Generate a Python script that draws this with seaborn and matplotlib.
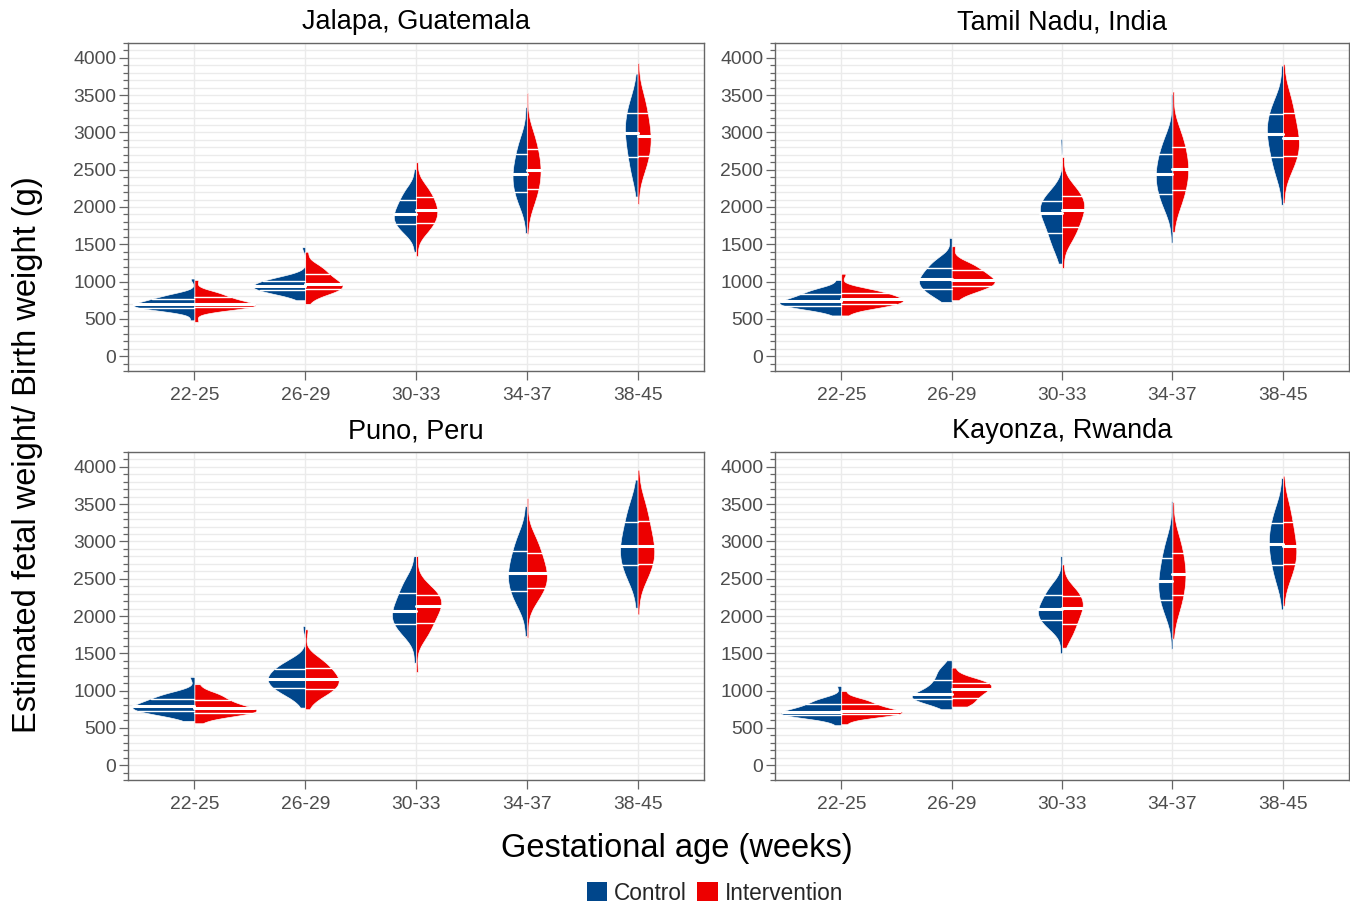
import numpy as np
import pandas as pd
import matplotlib
matplotlib.use("Agg")
import matplotlib.pyplot as plt
import seaborn as sns
from matplotlib.patches import Patch
from matplotlib.ticker import MultipleLocator

sns.set_theme(style="white")
plt.rcParams['font.family'] = ['Liberation Sans', 'DejaVu Sans']

ages = ["22-25", "26-29", "30-33", "34-37", "38-45"]
groups = ["Control", "Intervention"]
sites = ["Jalapa, Guatemala", "Tamil Nadu, India", "Puno, Peru", "Kayonza, Rwanda"]
colors = ["#00468B", "#ED0000"]

# Octile summaries, one list per age band:
# min, 12.5%, 25%, 37.5%, median, 62.5%, 75%, 87.5%, max  (grams)
jalapa_control = [
    [480, 618, 650, 674, 695, 730, 770, 823, 1040],
    [750, 838, 880, 912, 940, 973, 1010, 1059, 1460],
    [1400, 1663, 1765, 1841, 1910, 2000, 2100, 2234, 2510],
    [1650, 2031, 2200, 2326, 2440, 2570, 2714, 2907, 3340],
    [2140, 2444, 2670, 2839, 2990, 3118, 3260, 3451, 3790],
]
jalapa_intervention = [
    [460, 632, 660, 681, 700, 743, 790, 854, 1020],
    [700, 837, 893, 935, 973, 1036, 1107, 1202, 1400],
    [1340, 1674, 1790, 1877, 1955, 2043, 2140, 2271, 2600],
    [1640, 2056, 2240, 2377, 2500, 2632, 2780, 2978, 3530],
    [2040, 2498, 2685, 2825, 2950, 3097, 3260, 3479, 3930],
]
tamil_control = [
    [545, 633, 675, 707, 735, 780, 830, 897, 1020],
    [728, 818, 906, 972, 1031, 1105, 1187, 1297, 1585],
    [1241, 1470, 1656, 1795, 1920, 1994, 2076, 2186, 2915],
    [1522, 1995, 2178, 2314, 2437, 2568, 2714, 2910, 3518],
    [2031, 2448, 2669, 2834, 2982, 3105, 3241, 3424, 3897],
]
tamil_intervention = [
    [545, 649, 695, 729, 760, 798, 840, 896, 1105],
    [750, 873, 937, 984, 1027, 1086, 1152, 1240, 1473],
    [1183, 1568, 1732, 1854, 1964, 2049, 2143, 2269, 2669],
    [1665, 2034, 2232, 2380, 2513, 2650, 2803, 3008, 3549],
    [2053, 2510, 2683, 2812, 2928, 3085, 3259, 3493, 3919],
]
puno_control = [
    [594, 681, 728, 763, 795, 841, 893, 962, 1183],
    [772, 948, 1036, 1102, 1161, 1224, 1295, 1390, 1866],
    [1375, 1762, 1888, 1982, 2067, 2183, 2312, 2485, 2803],
    [1732, 2162, 2335, 2464, 2580, 2717, 2870, 3075, 3473],
    [2111, 2495, 2678, 2814, 2937, 3089, 3259, 3486, 3830],
]
puno_intervention = [
    [562, 666, 705, 734, 760, 814, 875, 956, 1085],
    [750, 939, 1027, 1093, 1152, 1226, 1308, 1418, 1821],
    [1250, 1738, 1900, 2021, 2130, 2201, 2280, 2386, 2803],
    [1710, 2237, 2379, 2485, 2580, 2707, 2848, 3037, 3585],
    [2022, 2519, 2692, 2821, 2937, 3095, 3272, 3509, 3964],
]
kayonza_control = [
    [536, 642, 674, 698, 719, 765, 817, 886, 1062],
    [750, 852, 893, 924, 951, 1039, 1138, 1270, 1406],
    [1500, 1845, 1946, 2021, 2089, 2178, 2277, 2410, 2803],
    [1562, 2034, 2214, 2348, 2469, 2617, 2781, 3001, 3540],
    [2089, 2470, 2678, 2833, 2973, 3104, 3250, 3446, 3852],
]
kayonza_intervention = [
    [549, 651, 683, 707, 728, 770, 817, 880, 995],
    [786, 821, 906, 970, 1027, 1065, 1107, 1163, 1308],
    [1576, 1747, 1897, 2009, 2110, 2185, 2268, 2380, 2692],
    [1696, 2079, 2277, 2425, 2558, 2695, 2848, 3053, 3527],
    [2134, 2519, 2692, 2821, 2937, 3089, 3259, 3486, 3884],
]
# share of observations carried by each summary value (extremes are few cases)
summary_weights = [2, 8, 8, 8, 8, 8, 8, 8, 2]

site_data = {
    sites[0]: (jalapa_control, jalapa_intervention),
    sites[1]: (tamil_control, tamil_intervention),
    sites[2]: (puno_control, puno_intervention),
    sites[3]: (kayonza_control, kayonza_intervention),
}

rows = []
for site, (ctrl, intv) in site_data.items():
    for g, arr in zip(groups, (ctrl, intv)):
        for age, vals in zip(ages, arr):
            for v in np.repeat(vals, summary_weights):
                rows.append((site, g, age, float(v)))
df = pd.DataFrame(rows, columns=["site", "group", "age", "weight"])

fig = plt.figure(figsize=(13.5, 9.09), dpi=100)
positions = [
    (0.0948, 0.5919, 0.4267, 0.3608),
    (0.5741, 0.5919, 0.4252, 0.3608),
    (0.0948, 0.1419, 0.4267, 0.3608),
    (0.5741, 0.1419, 0.4252, 0.3608),
]
widths = [1.1, 1.12, 1.12, 1.1]

axis_col = "#666666"
text_col = "#4D4D4D"
grid_col = "#EBEBEB"

for site, pos, w in zip(sites, positions, widths):
    ax = fig.add_axes(pos)
    sub = df[df["site"] == site]
    sns.violinplot(data=sub, x="age", y="weight", hue="group",
                   order=ages, hue_order=groups, palette=colors,
                   split=True, inner="quart", density_norm="area",
                   cut=0, bw_method=0.5, width=w, gap=0, gridsize=200,
                   linecolor="white", linewidth=0.45, saturation=1,
                   legend=False, ax=ax)
    # style quartile lines: solid white, median thicker
    meds = {}
    for g in groups:
        for i, age in enumerate(ages):
            vals = sub[(sub["group"] == g) & (sub["age"] == age)]["weight"].values
            meds[(g, i)] = np.median(vals)
    for ln in ax.lines:
        xd = np.asarray(ln.get_xdata(), dtype=float)
        yd = np.asarray(ln.get_ydata(), dtype=float)
        xm = xd.mean()
        cat = int(round(xm))
        g = groups[0] if xm < cat else groups[1]
        ln.set_linestyle("-")
        ln.set_color("white")
        if abs(yd[0] - meds[(g, cat)]) < 1e-6:
            ln.set_linewidth(2.2)
        else:
            ln.set_linewidth(1.0)

    ax.set_xlim(-0.6, 4.6)
    ax.set_ylim(-200, 4200)
    ax.yaxis.set_major_locator(MultipleLocator(500))
    ax.yaxis.set_minor_locator(MultipleLocator(100))
    ax.set_axisbelow(True)
    ax.grid(True, which="both", axis="y", color=grid_col, linewidth=1.0)
    ax.grid(True, which="major", axis="x", color=grid_col, linewidth=1.0)
    ax.set_xlabel("")
    ax.set_ylabel("")
    ax.set_title(site, fontsize=19.5, color="black", pad=10)
    for sp in ax.spines.values():
        sp.set_visible(True)
        sp.set_color(axis_col)
        sp.set_linewidth(1.0)
    ax.tick_params(axis="y", which="major", length=6.5, width=0.9, color=axis_col,
                   labelsize=13.9, labelcolor=text_col, pad=2, left=True)
    ax.tick_params(axis="y", which="minor", length=3.5, width=0.9, color=axis_col, left=True)
    ax.tick_params(axis="x", which="major", length=6.5, width=0.9, color=axis_col,
                   labelsize=13.9, labelcolor=text_col, pad=5, bottom=True)

fig.text(28 / 1350, 0.4994, "Estimated fetal weight/ Birth weight (g)", rotation=90,
         ha="center", va="center", fontsize=23.5, color="black")
fig.text(677 / 1350, 1 - 849 / 909, "Gestational age (weeks)",
         ha="center", va="center", fontsize=23.5, color="black")

handles = [Patch(facecolor=c, edgecolor="none", label=g) for c, g in zip(colors, groups)]
fig.legend(handles=handles, loc="center", bbox_to_anchor=(715 / 1350, 1 - 893 / 909),
           ncol=2, frameon=False, fontsize=16.3, handlelength=0.9, handleheight=0.9,
           handletextpad=0.3, columnspacing=0.45, borderaxespad=0)

fig.savefig("out.png", dpi=100)
